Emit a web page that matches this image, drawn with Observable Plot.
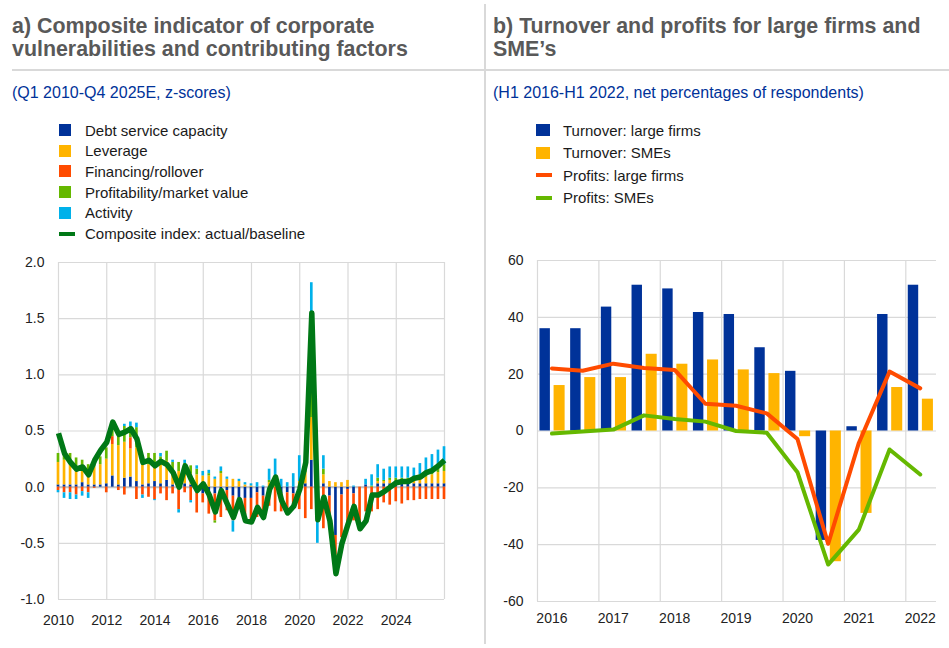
<!DOCTYPE html>
<html>
<head>
<meta charset="utf-8">
<script src="https://cdn.jsdelivr.net/npm/d3@7"></script>
<script src="https://cdn.jsdelivr.net/npm/@observablehq/plot@0.6"></script>
<style>
  html, body { margin: 0; padding: 0; background: #fff; }
  body { width: 949px; height: 648px; position: relative; overflow: hidden;
         font-family: Arial, "Liberation Sans", sans-serif; color: #222; }
  .abs { position: absolute; }
  .title { font-weight: bold; font-size: 21.4px; line-height: 23px; color: #595959; white-space: nowrap; }
  .sub { font-size: 16px; color: #003299; white-space: nowrap; }
  .leg { font-size: 15px; color: #1a1a1a; white-space: nowrap; line-height: 17px; }
  .sw { position: absolute; }
  .hline { position: absolute; background: #d9d9d9; }
</style>
</head>
<body>
<div class="hline" style="left:12px; top:69px; width:937px; height:2px;"></div>
<div class="hline" style="left:484px; top:4px; width:2px; height:640px;"></div>

<div class="abs title" style="left:12px; top:15px;">a) Composite indicator of corporate<br>vulnerabilities and contributing factors</div>
<div class="abs sub" style="left:12px; top:84px;">(Q1 2010-Q4 2025E, z-scores)</div>

<div class="abs title" style="left:493px; top:15px;">b) Turnover and profits for large firms and<br>SME’s</div>
<div class="abs sub" style="left:493px; top:84px;">(H1 2016-H1 2022, net percentages of respondents)</div>

<div id="legA"></div>
<div id="legB"></div>
<div id="chartA" class="abs" style="left:0px; top:250px;"></div>
<div id="chartB" class="abs" style="left:486px; top:250px;"></div>

<script>
// ---------- Panel a data (quarterly, z-scores) ----------
const seriesA = ["Debt service capacity", "Leverage", "Financing/rollover", "Profitability/market value", "Activity"];
const colorsA = ["#003299", "#FFB400", "#FF4B00", "#65B800", "#00B1EA"];
const compositeLabel = "Composite index: actual/baseline";
const compositeColor = "#007816";
const firstYear = 2010;

const debtService = [0.02,0.02,0.02,0.02,0.04,0.02,0.02,0.02,0.03,0.10,0.02,0.08,0.09,0.05,0.02,0.03,
  0.05,0.03,0.06,0.02,0.02,0.03,0.02,-0.02,-0.06,-0.05,-0.06,-0.02,-0.03,-0.08,-0.10,-0.10,
  -0.10,-0.05,-0.08,-0.02,0.00,-0.06,-0.05,-0.06,-0.02,0.03,0.24,0.02,0.03,-0.08,-0.43,-0.07,
  -0.02,-0.06,0.00,0.02,0.00,0.03,0.03,0.03,0.03,0.03,0.03,0.03,0.03,0.03,0.03,0.03,0.03];
const leverage = [0.20,0.22,0.20,0.16,0.15,0.13,0.16,0.18,0.22,0.28,0.35,0.32,0.25,0.30,0.18,0.17,
  0.17,0.17,0.17,0.13,0.12,0.12,0.10,0.11,0.10,0.10,0.07,0.12,0.07,0.07,0.05,0.02,
  0.01,0.00,0.00,0.04,0.00,0.00,0.00,0.00,0.05,0.10,0.38,0.05,0.08,0.05,0.04,0.04,
  0.06,0.00,0.00,0.00,0.00,0.02,0.02,0.03,0.02,0.02,0.03,0.03,0.05,0.06,0.08,0.10,0.11];
const financing = [-0.03,-0.05,-0.05,-0.07,-0.04,-0.05,-0.01,0.00,-0.05,0.07,-0.03,-0.07,0.10,-0.11,-0.07,-0.09,
  -0.11,-0.06,-0.12,-0.06,-0.20,-0.05,-0.12,-0.21,-0.08,-0.19,-0.24,-0.25,-0.18,-0.22,-0.10,-0.15,
  -0.19,-0.22,-0.14,-0.15,-0.22,-0.16,-0.18,-0.13,-0.18,-0.28,-0.20,-0.20,-0.37,-0.30,-0.17,-0.38,
  -0.31,-0.24,-0.30,-0.22,-0.22,-0.20,-0.14,-0.16,-0.13,-0.15,-0.12,-0.12,-0.11,-0.11,-0.11,-0.11,-0.11];
const profitability = [0.08,0.07,0.08,0.08,0.05,0.05,0.05,0.07,0.10,0.10,0.08,0.14,0.10,0.18,0.06,0.10,
  0.08,0.07,0.09,0.07,0.08,0.06,0.07,0.05,0.00,0.02,-0.02,0.02,0.00,0.00,0.00,0.00,
  0.00,0.00,0.00,0.02,0.03,0.00,-0.02,0.00,0.00,0.08,0.35,0.00,0.05,0.00,-0.02,0.00,
  0.00,0.00,-0.04,0.00,0.01,0.03,0.01,0.02,0.03,0.03,0.02,0.02,0.03,0.04,0.05,0.06,0.06];
const activity = [-0.02,-0.05,-0.06,-0.04,-0.04,-0.05,0.00,0.00,0.00,0.00,0.02,0.02,0.04,0.04,-0.03,0.00,
  -0.01,0.03,0.00,0.02,-0.03,0.03,-0.02,0.03,0.04,0.03,0.02,0.04,0.02,-0.10,0.02,0.02,
  0.02,0.04,0.01,0.10,0.22,0.07,0.04,0.12,0.23,0.16,0.85,-0.30,0.12,0.00,0.00,0.00,
  0.00,0.01,-0.03,0.05,0.10,0.12,0.10,0.10,0.10,0.10,0.10,0.09,0.10,0.13,0.13,0.14,0.16];
const composite = [0.48,0.30,0.22,0.16,0.18,0.11,0.24,0.33,0.40,0.58,0.47,0.49,0.52,0.43,0.22,0.24,
  0.19,0.23,0.20,0.13,0.00,0.19,0.07,-0.03,0.03,-0.07,-0.22,-0.03,-0.15,-0.27,-0.11,-0.30,
  -0.31,-0.18,-0.27,-0.02,0.09,-0.12,-0.23,-0.17,-0.02,0.22,1.55,-0.29,-0.09,-0.30,-0.77,-0.50,
  -0.33,-0.17,-0.37,-0.30,-0.07,-0.07,-0.04,0.00,0.04,0.05,0.05,0.08,0.09,0.13,0.15,0.19,0.24];
const yTicksA = [-1, -0.5, 0, 0.5, 1, 1.5, 2];
const xTicksA = [2010, 2012, 2014, 2016, 2018, 2020, 2022, 2024];
const xGridA = [2010, 2012, 2014, 2016, 2018, 2020, 2022, 2024, 2026];

// ---------- Panel b data (half-yearly, net %) ----------
const periodsB = ["H1 2016","H2 2016","H1 2017","H2 2017","H1 2018","H2 2018","H1 2019","H2 2019",
  "H1 2020","H2 2020","H1 2021","H2 2021","H1 2022"];
const turnoverLarge = [36, 36, 43.6, 51.3, 50, 41.7, 41, 29.3, 21, -38.5, 1.5, 41, 51.3];
const turnoverSME = [16, 18.8, 18.8, 27, 23.5, 25, 21.5, 20.2, -2, -46, -29, 15.3, 11.2];
const profitsLarge = [22, 21.2, 23.7, 22.2, 21.5, 9.6, 8.9, 6.2, -2.8, -39.7, -4.2, 20.9, 15];
const profitsSME = [-0.9, -0.2, 0.5, 5.5, 4.2, 3.3, 0, -0.6, -14.5, -47, -34.7, -6.5, -15.3];
const seriesB = ["Turnover: large firms", "Turnover: SMEs", "Profits: large firms", "Profits: SMEs"];
const colorsB = ["#003299", "#FFB400", "#FF4B00", "#65B800"];
const yTicksB = [-60, -40, -20, 0, 20, 40, 60];
const yearLabelsB = [2016, 2017, 2018, 2019, 2020, 2021, 2022];

// ---------- Legends ----------
function legend(id, left, textLeft, top, step, items) {
  const el = document.getElementById(id);
  items.forEach((it, i) => {
    const cy = top + i * step;
    const sw = document.createElement("div");
    sw.className = "sw";
    if (it.line) {
      sw.style.cssText = `left:${left}px; top:${cy - 2}px; width:16px; height:4px; background:${it.color}`;
    } else {
      sw.style.cssText = `left:${left}px; top:${cy - 6}px; width:${it.w}px; height:12px; background:${it.color}`;
    }
    el.appendChild(sw);
    const tx = document.createElement("div");
    tx.className = "abs leg";
    tx.style.left = textLeft + "px";
    tx.style.top = (cy - 8.5) + "px";
    tx.textContent = it.label;
    el.appendChild(tx);
  });
}
legend("legA", 59, 85, 130, 20.7,
  seriesA.map((s, i) => ({label: s, color: colorsA[i], w: 12}))
    .concat([{label: compositeLabel, color: compositeColor, line: true}]));
legend("legB", 536, 563, 130, 22.6,
  seriesB.map((s, i) => ({label: s, color: colorsB[i], w: 14, line: i >= 2})));

// ---------- Panel a chart ----------
const compsA = [debtService, leverage, financing, profitability, activity];
const barsA = [];
compsA.forEach((arr, s) => arr.forEach((v, i) => barsA.push({t: firstYear + i / 4, series: seriesA[s], value: v})));
const lineA = composite.map((v, i) => ({t: firstYear + i / 4, v}));

const axisFont = {fontSize: 14, fill: "#222"};
const chartA = Plot.plot({
  width: 484, height: 395,
  marginLeft: 58, marginRight: 40, marginTop: 12, marginBottom: 46,
  style: {fontFamily: "Arial, 'Liberation Sans', sans-serif", fontSize: "14px", background: "transparent"},
  x: {domain: [2010, 2026]},
  y: {domain: [-1, 2]},
  color: {domain: seriesA, range: colorsA},
  marks: [
    Plot.gridY(yTicksA, {stroke: "#d9d9d9", strokeOpacity: 1, strokeWidth: 1.2}),
    Plot.gridX(xGridA, {stroke: "#d9d9d9", strokeOpacity: 1, strokeWidth: 1.2}),
    Plot.ruleY([0], {stroke: "#c4c4c4", strokeWidth: 2}),
    Plot.rectY(barsA, Plot.stackY({
      x1: d => d.t - 0.055, x2: d => d.t + 0.055, y: "value", fill: "series", order: null
    })),
    Plot.line(lineA, {x: "t", y: "v", stroke: compositeColor, strokeWidth: 5.5, strokeLinejoin: "round", strokeLinecap: "butt"}),
    Plot.axisY(yTicksA, {tickSize: 0, tickPadding: 14, tickFormat: d => d.toFixed(1), label: null, ...axisFont}),
    Plot.axisX(xTicksA, {tickSize: 0, tickPadding: 16, tickFormat: d => String(d), label: null, ...axisFont})
  ]
});
document.getElementById("chartA").appendChild(chartA);

// ---------- Panel b chart ----------
const barsB = [];
periodsB.forEach((p, i) => {
  barsB.push({i, series: seriesB[0], value: turnoverLarge[i], a: 0.08, b: 0.42});
  barsB.push({i, series: seriesB[1], value: turnoverSME[i], a: 0.54, b: 0.90});
});
const linesB = [];
periodsB.forEach((p, i) => {
  linesB.push({x: i + 0.47, series: seriesB[2], value: profitsLarge[i]});
});
periodsB.forEach((p, i) => {
  linesB.push({x: i + 0.47, series: seriesB[3], value: profitsSME[i]});
});
const xTicksB = yearLabelsB.map((y, k) => 2 * k + 0.47);

const chartB = Plot.plot({
  width: 463, height: 395,
  marginLeft: 51, marginRight: 13, marginTop: 10, marginBottom: 44,
  style: {fontFamily: "Arial, 'Liberation Sans', sans-serif", fontSize: "14px", background: "transparent"},
  x: {domain: [0, periodsB.length]},
  y: {domain: [-60, 60]},
  color: {domain: seriesB, range: colorsB},
  marks: [
    Plot.gridY(yTicksB, {stroke: "#d9d9d9", strokeOpacity: 1, strokeWidth: 1.2}),
    Plot.gridX([0, 2, 4, 6, 8, 10, 12], {stroke: "#d9d9d9", strokeOpacity: 1, strokeWidth: 1.2}),
    Plot.rectY(barsB, {x1: d => d.i + d.a, x2: d => d.i + d.b, y1: 0, y2: "value", fill: "series"}),
    Plot.line(linesB, {x: "x", y: "value", z: "series", stroke: "series", strokeWidth: 4, strokeLinejoin: "round"}),
    Plot.axisY(yTicksB, {tickSize: 0, tickPadding: 14, tickFormat: d => String(d), label: null, ...axisFont}),
    Plot.axisX(xTicksB, {tickSize: 0, tickPadding: 12, tickFormat: (d, k) => String(yearLabelsB[k]), label: null, ...axisFont})
  ]
});
document.getElementById("chartB").appendChild(chartB);
</script>
</body>
</html>
